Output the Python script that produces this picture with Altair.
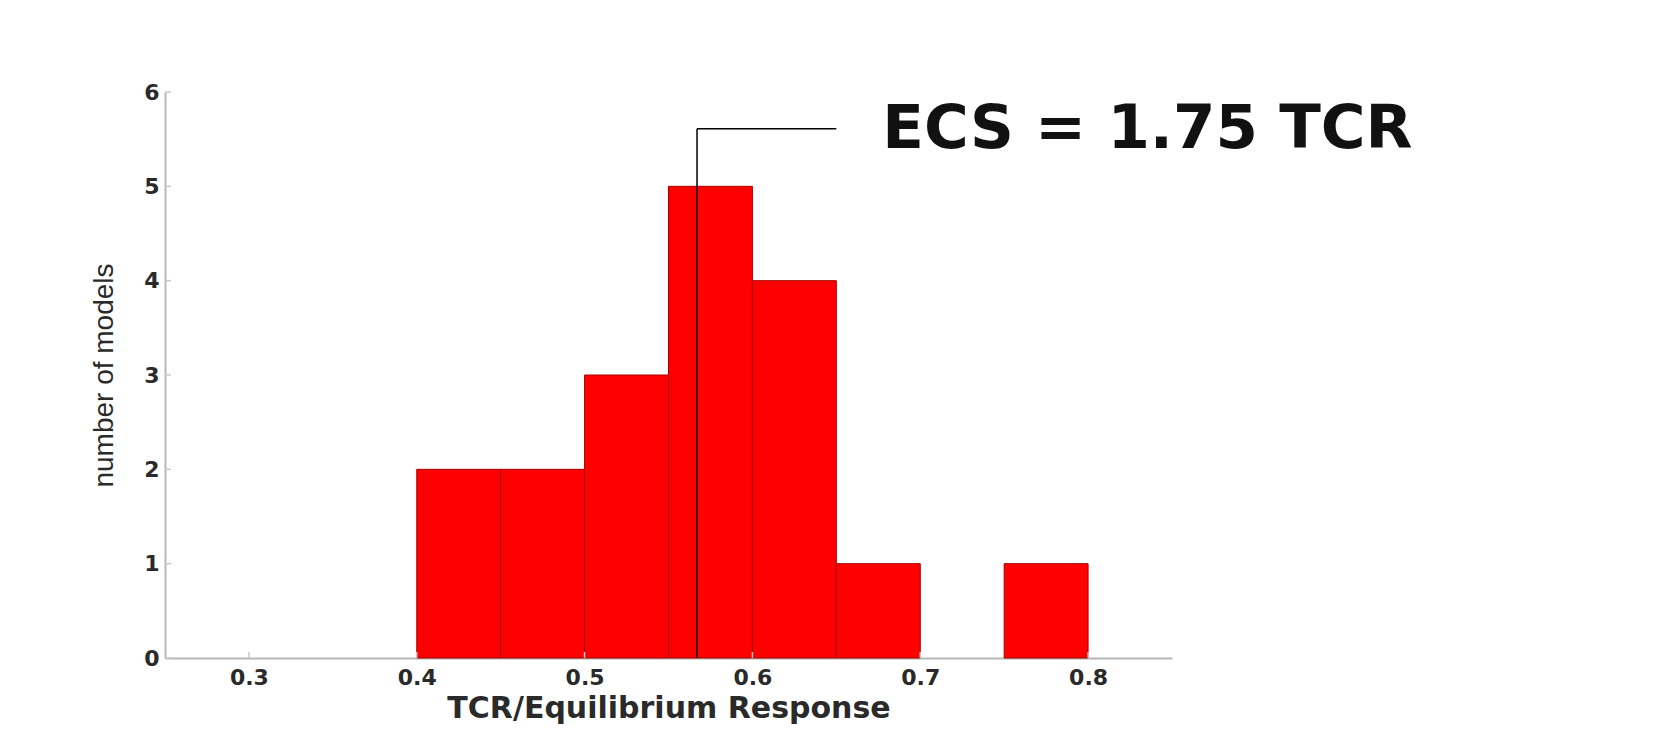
import altair as alt
import pandas as pd

# ---- data ----
bin_start = [0.40, 0.45, 0.50, 0.55, 0.60, 0.65, 0.70, 0.75]
bin_end = [0.45, 0.50, 0.55, 0.60, 0.65, 0.70, 0.75, 0.80]
counts = [2, 2, 3, 5, 4, 1, 0, 1]
x_ticks = [0.3, 0.4, 0.5, 0.6, 0.7, 0.8]
y_ticks = [0, 1, 2, 3, 4, 5, 6]
marker_x = [0.567]
marker_top = [5.61]
marker_end = [0.65]
label_text = ["ECS = 1.75 TCR"]

bars = pd.DataFrame({"start": bin_start, "end": bin_end, "count": counts})
bars = bars[bars["count"] > 0]
marker = pd.DataFrame({"x": marker_x, "top": marker_top, "end": marker_end, "label": label_text})
xt = pd.DataFrame({"x": x_ticks})
yt = pd.DataFrame({"y": y_ticks})

xscale = alt.Scale(domain=[0.25, 0.85], nice=False, zero=False)
yscale = alt.Scale(domain=[0, 6], nice=False)
xaxis = alt.Axis(values=x_ticks, format=".1f", title="TCR/Equilibrium Response")
yaxis = alt.Axis(values=y_ticks, format="d", title="number of models")

hist = alt.Chart(bars).mark_rect(color="#ff0000", stroke="#a80000", strokeWidth=1).encode(
    x=alt.X("start:Q", scale=xscale, axis=xaxis),
    x2="end:Q",
    y=alt.Y("count:Q", scale=yscale, axis=yaxis),
    y2=alt.datum(0),
)

vline = alt.Chart(marker).mark_rule(color="#000000", strokeWidth=1.5).encode(
    x=alt.X("x:Q", scale=xscale, axis=xaxis),
    y=alt.Y("top:Q", scale=yscale, axis=yaxis),
    y2=alt.datum(0),
)

hline = alt.Chart(marker).mark_rule(color="#000000", strokeWidth=1.5).encode(
    x=alt.X("x:Q", scale=xscale, axis=xaxis),
    x2="end:Q",
    y=alt.Y("top:Q", scale=yscale, axis=yaxis),
)

label = alt.Chart(marker).mark_text(
    align="left", baseline="middle", dx=46, dy=1,
    font="DejaVu Sans", fontWeight="bold", fontSize=61, color="#111111",
).encode(
    x=alt.X("end:Q", scale=xscale, axis=xaxis),
    y=alt.Y("top:Q", scale=yscale, axis=yaxis),
    text="label:N",
)

xticks = alt.Chart(xt).mark_rule(color="#c8c8c8", strokeWidth=1.5).encode(
    x=alt.X("x:Q", scale=xscale, axis=xaxis),
    y=alt.value(566),
    y2=alt.value(560),
)

yticks = alt.Chart(yt).mark_rule(color="#c8c8c8", strokeWidth=1.5).encode(
    y=alt.Y("y:Q", scale=yscale, axis=yaxis),
    x=alt.value(0),
    x2=alt.value(6),
)

chart = (
    alt.layer(hist, vline, hline, xticks, yticks, label)
    .properties(
        width=1007,
        height=566,
        autosize=alt.AutoSizeParams(type="none"),
        padding={"left": 157, "top": 84, "right": 470, "bottom": 80},
        background="#ffffff",
    )
    .configure_view(stroke=None)
    .configure_axis(
        domainColor="#b8b8b8",
        domainWidth=2,
        ticks=False,
        grid=False,
        labelFont="DejaVu Sans",
        labelFontWeight="bold",
        labelFontSize=22,
        labelColor="#2a2a2a",
        titleColor="#2a2a2a",
    )
    .configure_axisX(
        labelPadding=9,
        titleFont="DejaVu Sans",
        titleFontWeight="bold",
        titleFontSize=30,
        titlePadding=5,
    )
    .configure_axisY(
        labelPadding=6,
        titleFont="Liberation Sans",
        titleFontWeight="normal",
        titleFontSize=28,
        titlePadding=25,
    )
)

chart.save("out.html", embed_options={"renderer": "svg", "actions": False})
